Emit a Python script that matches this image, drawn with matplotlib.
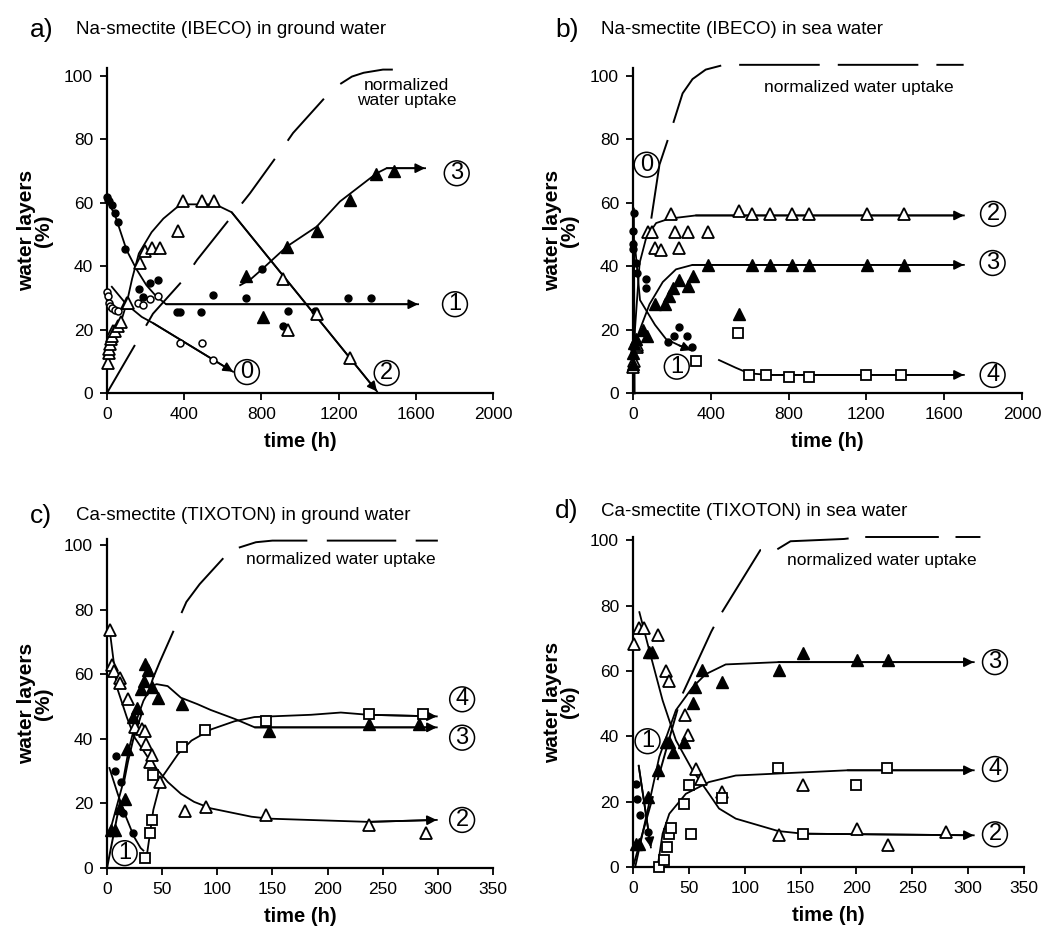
import matplotlib
matplotlib.use("Agg")
import matplotlib.pyplot as plt

plt.rcParams['font.family'] = ['Liberation Sans', 'DejaVu Sans']
plt.rcParams['lines.scale_dashes'] = False

# ---------------- a) Na-smectite (IBECO) in ground water ----------------
a_open_circ_t = [0, 3, 8, 15, 24, 41, 59, 162, 188, 222, 266, 378, 490, 549]
a_open_circ_y = [32, 30.6, 28.5, 27.5, 26.7, 26.2, 26, 28.5, 27.7, 29.8, 30.6, 15.7, 15.7, 10.5]
a_fill_circ_t = [2, 5, 12, 24, 41, 59, 93, 167, 185, 222, 266, 361, 378, 485, 549, 719, 801, 912, 938, 1078, 1249, 1367]
a_fill_circ_y = [61.7, 60.8, 60.4, 59.3, 56.9, 54, 45.3, 32.8, 30.2, 34.8, 35.6, 25.6, 25.6, 25.6, 31, 30, 39, 21, 26, 26, 30, 30]
a_open_tri_t = [3, 8, 12, 16, 20, 25, 33, 41, 59, 71, 102, 110, 170, 197, 231, 274, 370, 392, 490, 553, 914, 940, 1086, 1259]
a_open_tri_y = [9.5, 12.5, 14, 15.5, 17, 18, 19.5, 19.4, 21, 22.5, 28.3, 28.3, 41, 44.7, 45.8, 45.8, 51, 60.4, 60.4, 60.4, 36, 20, 25, 11]
a_fill_tri_t = [722, 807, 932, 1087, 1259, 1394, 1487]
a_fill_tri_y = [36.8, 24, 46, 51, 61, 69, 70]

a_c0_t = [25, 100, 180, 240, 653]
a_c0_y = [33.5, 28, 24, 22, 6.7]
a_c1_t = [0, 42, 102, 153, 204, 255, 306, 1612]
a_c1_y = [61, 56, 45, 39, 34, 30.5, 28, 28]
a_c2_t = [0, 40, 70, 102, 130, 165, 231, 292, 361, 420, 561, 646, 1399]
a_c2_y = [9, 17, 22, 28.3, 36, 44, 50.7, 55, 58.5, 59.5, 59.5, 57, 0.5]
a_c3_t = [690, 741, 801, 932, 1087, 1207, 1397, 1449, 1648]
a_c3_y = [34, 35.7, 38.9, 46.2, 52.5, 60.4, 69.3, 70.9, 70.9]
a_up_t = [0, 153, 238, 400, 467, 646, 741, 907, 964, 1171, 1269, 1330, 1430, 1590]
a_up_y = [0, 16, 25, 36, 42, 55.7, 63, 77, 82, 96, 99.8, 101, 102, 102]

# ---------------- b) Na-smectite (IBECO) in sea water ----------------
b_fill_circ_t = [0, 0, 2, 3, 17, 19, 68, 68, 182, 213, 234, 277, 302]
b_fill_circ_y = [47, 51, 45.5, 56.7, 41, 37.7, 36, 33, 16.2, 18, 20.9, 18, 14.6]
b_open_tri_t = [0, 3, 19, 20, 76, 96, 113, 144, 196, 216, 234, 282, 388, 545, 613, 706, 818, 907, 1204, 1393]
b_open_tri_y = [8.3, 10, 14.6, 15, 50.9, 50.9, 45.6, 45.1, 56.4, 50.9, 45.6, 50.9, 50.9, 57.5, 56.5, 56.5, 56.5, 56.5, 56.5, 56.5]
b_fill_tri_t = [0, 1, 3, 17, 51, 70, 111, 162, 187, 204, 238, 281, 306, 388, 545, 613, 706, 818, 907, 1204, 1393]
b_fill_tri_y = [9, 12.6, 15.8, 17, 20, 18, 28, 28, 30.5, 33, 35.7, 33.6, 36.8, 40.4, 25, 40.4, 40.4, 40.4, 40.4, 40.4, 40.4]
b_open_sq_t = [323, 540, 596, 684, 800, 907, 1196, 1376]
b_open_sq_y = [10, 19, 5.8, 5.8, 5, 5, 5.8, 5.8]

b_c0_t = [2, 6]
b_c0_y = [58, 0]
b_c1_t = [8, 36, 113, 170, 238, 300]
b_c1_y = [48, 29.3, 21.5, 17, 15, 13.5]
b_c2_t = [0, 10, 34, 68, 119, 187, 323, 1701]
b_c2_y = [0, 20, 41, 49, 53.6, 55, 56, 56]
b_c3_t = [0, 17, 85, 153, 221, 306, 1701]
b_c3_y = [0, 17, 28, 35, 39, 40.4, 40.4]
b_c4_t = [442, 527, 596, 700, 1701]
b_c4_y = [10.4, 8, 6.2, 5.7, 5.7]
b_up_t = [94, 136, 196, 255, 306, 374, 468, 1700]
b_up_y = [55, 72, 83, 94.5, 99, 102, 103.5, 103.5]

# ---------------- c) Ca-smectite (TIXOTON) in ground water ----------------
c_open_tri_t = [3, 4.5, 6, 12, 12, 19, 25.5, 31.5, 34.5, 35.5, 39, 40.5, 48, 70.6, 90, 144, 237.4, 289.5]
c_open_tri_y = [73.8, 63, 61, 59, 57.4, 52.3, 43.6, 43, 42.5, 38.5, 33, 35, 26.7, 17.7, 19, 16.4, 13.3, 10.8]
c_fill_tri_t = [4, 7, 12, 16.6, 18, 24, 27.6, 30.6, 34, 34.6, 37.6, 40.6, 46.6, 67.6, 147, 237.4, 282.5]
c_fill_tri_y = [11.8, 11.8, 18.5, 21.5, 37, 46.7, 49.7, 55.4, 58, 63.3, 61.5, 56, 52.8, 50.8, 42.6, 44.6, 44.6]
c_open_sq_t = [34.5, 39, 41, 41.7, 67.6, 89, 144, 237.4, 286.5]
c_open_sq_y = [3.1, 10.8, 14.9, 28.7, 37.6, 42.8, 45.6, 47.8, 47.8]
c_fill_circ_t = [7, 8.5, 13, 14.6, 23.6]
c_fill_circ_y = [30, 34.6, 26.7, 17, 11]

c_c1_t = [2.2, 9.7, 17, 24.5, 30.5, 33]
c_c1_y = [31, 23, 16, 9.7, 6.2, 5.4]
c_c2_t = [2.2, 9, 18, 25, 40, 55, 67, 79, 94, 131, 147, 237, 299]
c_c2_y = [74.4, 56, 46.7, 40.5, 32.8, 26.7, 23, 20.5, 18.5, 15.9, 15.3, 14.3, 14.9]
c_c3_t = [3, 13.5, 19.5, 25.5, 33, 40.5, 45, 55, 67, 82, 94, 116, 134, 299]
c_c3_y = [11.8, 25, 36.4, 44.6, 51.8, 56.4, 57, 56.4, 52.8, 50.8, 49, 46.2, 43.6, 43.6]
c_c4_t = [36, 42, 49.6, 64.6, 76.6, 94.6, 115.7, 133.7, 185, 212, 237, 299]
c_c4_y = [3.6, 18, 28, 35.4, 39.5, 43, 45.5, 46.8, 47.5, 48.2, 47.5, 47]
c_up_t = [0, 19, 23.5, 41.7, 48, 72, 84, 112, 135, 150, 300]
c_up_y = [0, 33, 39.5, 58.8, 64, 82.5, 88, 98.5, 101, 101.5, 101.5]

# ---------------- d) Ca-smectite (TIXOTON) in sea water ----------------
d_open_tri_t = [1.2, 5.7, 10, 22, 29.5, 32, 46.7, 48.8, 56.3, 60.7, 80, 130.6, 152.4, 200.6, 228, 280.4]
d_open_tri_y = [68.4, 73, 73, 71, 60, 57, 46.4, 40.3, 30, 27, 23, 9.7, 25, 11.7, 6.6, 10.7]
d_fill_tri_t = [2.7, 5, 13, 14.6, 17, 22, 29.5, 32, 35.4, 45.8, 53.3, 55.7, 61.6, 80, 130.6, 152.4, 200.6, 228]
d_fill_tri_y = [7.1, 7.1, 21.4, 65.8, 65.8, 29.6, 38.3, 38.3, 35.2, 38.3, 50.2, 55.1, 60.2, 56.6, 60.2, 65.4, 63.4, 63.4]
d_open_sq_t = [23.5, 28, 30, 32.5, 34, 46, 49.7, 51.8, 80, 129.7, 152, 200, 227.4]
d_open_sq_y = [0, 2, 6, 10.2, 12, 19.2, 25.2, 10.2, 21, 30.4, 10, 25, 30.4]
d_fill_circ_t = [2.7, 3.6, 6.5, 13]
d_fill_circ_y = [25.5, 20.9, 15.8, 10.7]

d_c1_t = [5.1, 16]
d_c1_y = [31, 6]
d_c2_t = [5.7, 14.6, 26.5, 38.4, 53.3, 68, 77, 92, 130, 152, 305]
d_c2_y = [78, 66.3, 51, 38.8, 29.6, 22.4, 17.9, 14.8, 11, 10.2, 9.7]
d_c3_t = [2, 23.5, 38.4, 53.3, 65, 83, 130, 305]
d_c3_y = [0, 33.7, 48, 55, 59, 62, 62.7, 62.7]
d_c4_t = [22, 26.5, 32.5, 47.3, 68, 92, 192, 305]
d_c4_y = [0, 10.2, 16.3, 22.4, 26, 28, 29.6, 29.6]
d_up_t = [0, 43, 70, 77, 114, 128, 141, 189, 204, 311]
d_up_y = [0, 52, 72, 76.5, 97, 97, 99.7, 100.4, 101, 101]

W, H = 1041, 934
fig = plt.figure(figsize=(W / 100, H / 100), dpi=100)


def make_ax(left, right, top, bottom):
    ax = fig.add_axes([left / W, 1 - bottom / H, (right - left) / W, (bottom - top) / H])
    for s in ['top', 'right']:
        ax.spines[s].set_visible(False)
    for s in ['left', 'bottom']:
        ax.spines[s].set_linewidth(1.6)
    ax.tick_params(direction='out', length=5, width=1.3, labelsize=12.5, pad=5)
    ax.set_ylabel('water layers\n(%)', fontsize=15, fontweight='bold', linespacing=0.85, labelpad=8)
    ax.set_xlabel('time (h)', fontsize=14.5, fontweight='bold', labelpad=7)
    return ax


def curve(ax, t, y, arrow=True, lw=1.3):
    ax.plot(t, y, color='k', lw=lw, clip_on=False, zorder=3)
    if arrow:
        ax.annotate('', xy=(t[-1], y[-1]), xytext=(t[-2], y[-2]),
                    arrowprops=dict(arrowstyle='-|>', color='k', lw=lw, mutation_scale=14,
                                    shrinkA=0, shrinkB=0),
                    annotation_clip=False, zorder=3)


def uptake(ax, t, y, dashes):
    ax.plot(t, y, color='k', lw=1.4, dashes=dashes, clip_on=False, zorder=2)


def pts(ax, t, y, kind):
    style = {
        'open_tri': dict(marker='^', ms=8, mfc='white', mec='k', mew=1.3),
        'fill_tri': dict(marker='^', ms=9, mfc='k', mec='k', mew=1),
        'fill_circ': dict(marker='o', ms=5, mfc='k', mec='k', mew=1),
        'open_circ': dict(marker='o', ms=5, mfc='white', mec='k', mew=1.1),
        'open_sq': dict(marker='s', ms=6.5, mfc='white', mec='k', mew=1.3),
    }[kind]
    ax.plot(t, y, ls='none', clip_on=False, zorder=4, **style)


def circ(ax, x, y, s):
    ax.text(x, y, s, ha='center', va='center', fontsize=17, zorder=5,
            bbox=dict(boxstyle='circle,pad=0.06', fc='white', ec='k', lw=1.1), clip_on=False)


def title(px, py, letter, text):
    fig.text(px / W, 1 - py / H, letter, fontsize=19, ha='left', va='center')
    fig.text((px + 46) / W, 1 - py / H, text, fontsize=13.5, ha='left', va='center')


# panel a
ax = make_ax(107, 493, 68, 393)
ax.set_xlim(0, 2000)
ax.set_ylim(0, 102.5)
ax.set_xticks([0, 400, 800, 1200, 1600, 2000])
ax.set_yticks([0, 20, 40, 60, 80, 100])
uptake(ax, a_up_t, a_up_y, (40, 16))
curve(ax, a_c0_t, a_c0_y)
curve(ax, a_c1_t, a_c1_y)
curve(ax, a_c2_t, a_c2_y)
curve(ax, a_c3_t, a_c3_y)
pts(ax, a_open_circ_t, a_open_circ_y, 'open_circ')
pts(ax, a_fill_circ_t, a_fill_circ_y, 'fill_circ')
pts(ax, a_open_tri_t, a_open_tri_y, 'open_tri')
pts(ax, a_fill_tri_t, a_fill_tri_y, 'fill_tri')
circ(ax, 725, 6.6, '0')
circ(ax, 1803, 28, '1')
circ(ax, 1449, 6.3, '2')
circ(ax, 1812, 69.3, '3')
ax.text(1553, 94.7, 'normalized\nwater uptake', ha='center', va='center', fontsize=12.5, linespacing=1.0)
title(30, 30, 'a)', 'Na-smectite (IBECO) in ground water')

# panel b
ax = make_ax(633, 1022, 68, 393)
ax.set_xlim(0, 2000)
ax.set_ylim(0, 102.5)
ax.set_xticks([0, 400, 800, 1200, 1600, 2000])
ax.set_yticks([0, 20, 40, 60, 80, 100])
uptake(ax, b_up_t, b_up_y, (58, 13))
curve(ax, b_c0_t, b_c0_y, arrow=False, lw=2)
curve(ax, b_c1_t, b_c1_y)
curve(ax, b_c2_t, b_c2_y)
curve(ax, b_c3_t, b_c3_y)
curve(ax, b_c4_t, b_c4_y)
pts(ax, b_fill_circ_t, b_fill_circ_y, 'fill_circ')
pts(ax, b_open_tri_t, b_open_tri_y, 'open_tri')
pts(ax, b_fill_tri_t, b_fill_tri_y, 'fill_tri')
pts(ax, b_open_sq_t, b_open_sq_y, 'open_sq')
circ(ax, 70, 72, '0')
circ(ax, 225, 8.3, '1')
circ(ax, 1851, 56.5, '2')
circ(ax, 1849, 41, '3')
circ(ax, 1849, 5.7, '4')
ax.text(1160, 96.5, 'normalized water uptake', ha='center', va='center', fontsize=12.5)
title(555, 30, 'b)', 'Na-smectite (IBECO) in sea water')

# panel c
ax = make_ax(107, 493, 539, 868)
ax.set_xlim(0, 350)
ax.set_ylim(0, 102)
ax.set_xticks([0, 50, 100, 150, 200, 250, 300, 350])
ax.set_yticks([0, 20, 40, 60, 80, 100])
uptake(ax, c_up_t, c_up_y, (50, 14))
curve(ax, c_c1_t, c_c1_y, arrow=False)
curve(ax, c_c2_t, c_c2_y)
curve(ax, c_c3_t, c_c3_y)
curve(ax, c_c4_t, c_c4_y)
pts(ax, c_fill_circ_t, c_fill_circ_y, 'fill_circ')
pts(ax, c_open_tri_t, c_open_tri_y, 'open_tri')
pts(ax, c_fill_tri_t, c_fill_tri_y, 'fill_tri')
pts(ax, c_open_sq_t, c_open_sq_y, 'open_sq')
circ(ax, 16, 4.6, '1')
circ(ax, 322, 14.9, '2')
circ(ax, 322, 40.4, '3')
circ(ax, 322, 52.3, '4')
ax.text(212, 95.5, 'normalized water uptake', ha='center', va='center', fontsize=12.5)
title(30, 516, 'c)', 'Ca-smectite (TIXOTON) in ground water')

# panel d
ax = make_ax(633, 1024, 537, 867)
ax.set_xlim(0, 350)
ax.set_ylim(0, 101)
ax.set_xticks([0, 50, 100, 150, 200, 250, 300, 350])
ax.set_yticks([0, 20, 40, 60, 80, 100])
uptake(ax, d_up_t, d_up_y, (53, 12))
curve(ax, d_c1_t, d_c1_y)
curve(ax, d_c2_t, d_c2_y)
curve(ax, d_c3_t, d_c3_y)
curve(ax, d_c4_t, d_c4_y)
pts(ax, d_fill_circ_t, d_fill_circ_y, 'fill_circ')
pts(ax, d_open_tri_t, d_open_tri_y, 'open_tri')
pts(ax, d_fill_tri_t, d_fill_tri_y, 'fill_tri')
pts(ax, d_open_sq_t, d_open_sq_y, 'open_sq')
circ(ax, 13, 38.5, '1')
circ(ax, 324, 10, '2')
circ(ax, 324, 62.7, '3')
circ(ax, 324, 30, '4')
ax.text(223, 93.7, 'normalized water uptake', ha='center', va='center', fontsize=12.5)
title(555, 511, 'd)', 'Ca-smectite (TIXOTON) in sea water')

fig.savefig('out.png', dpi=100)
